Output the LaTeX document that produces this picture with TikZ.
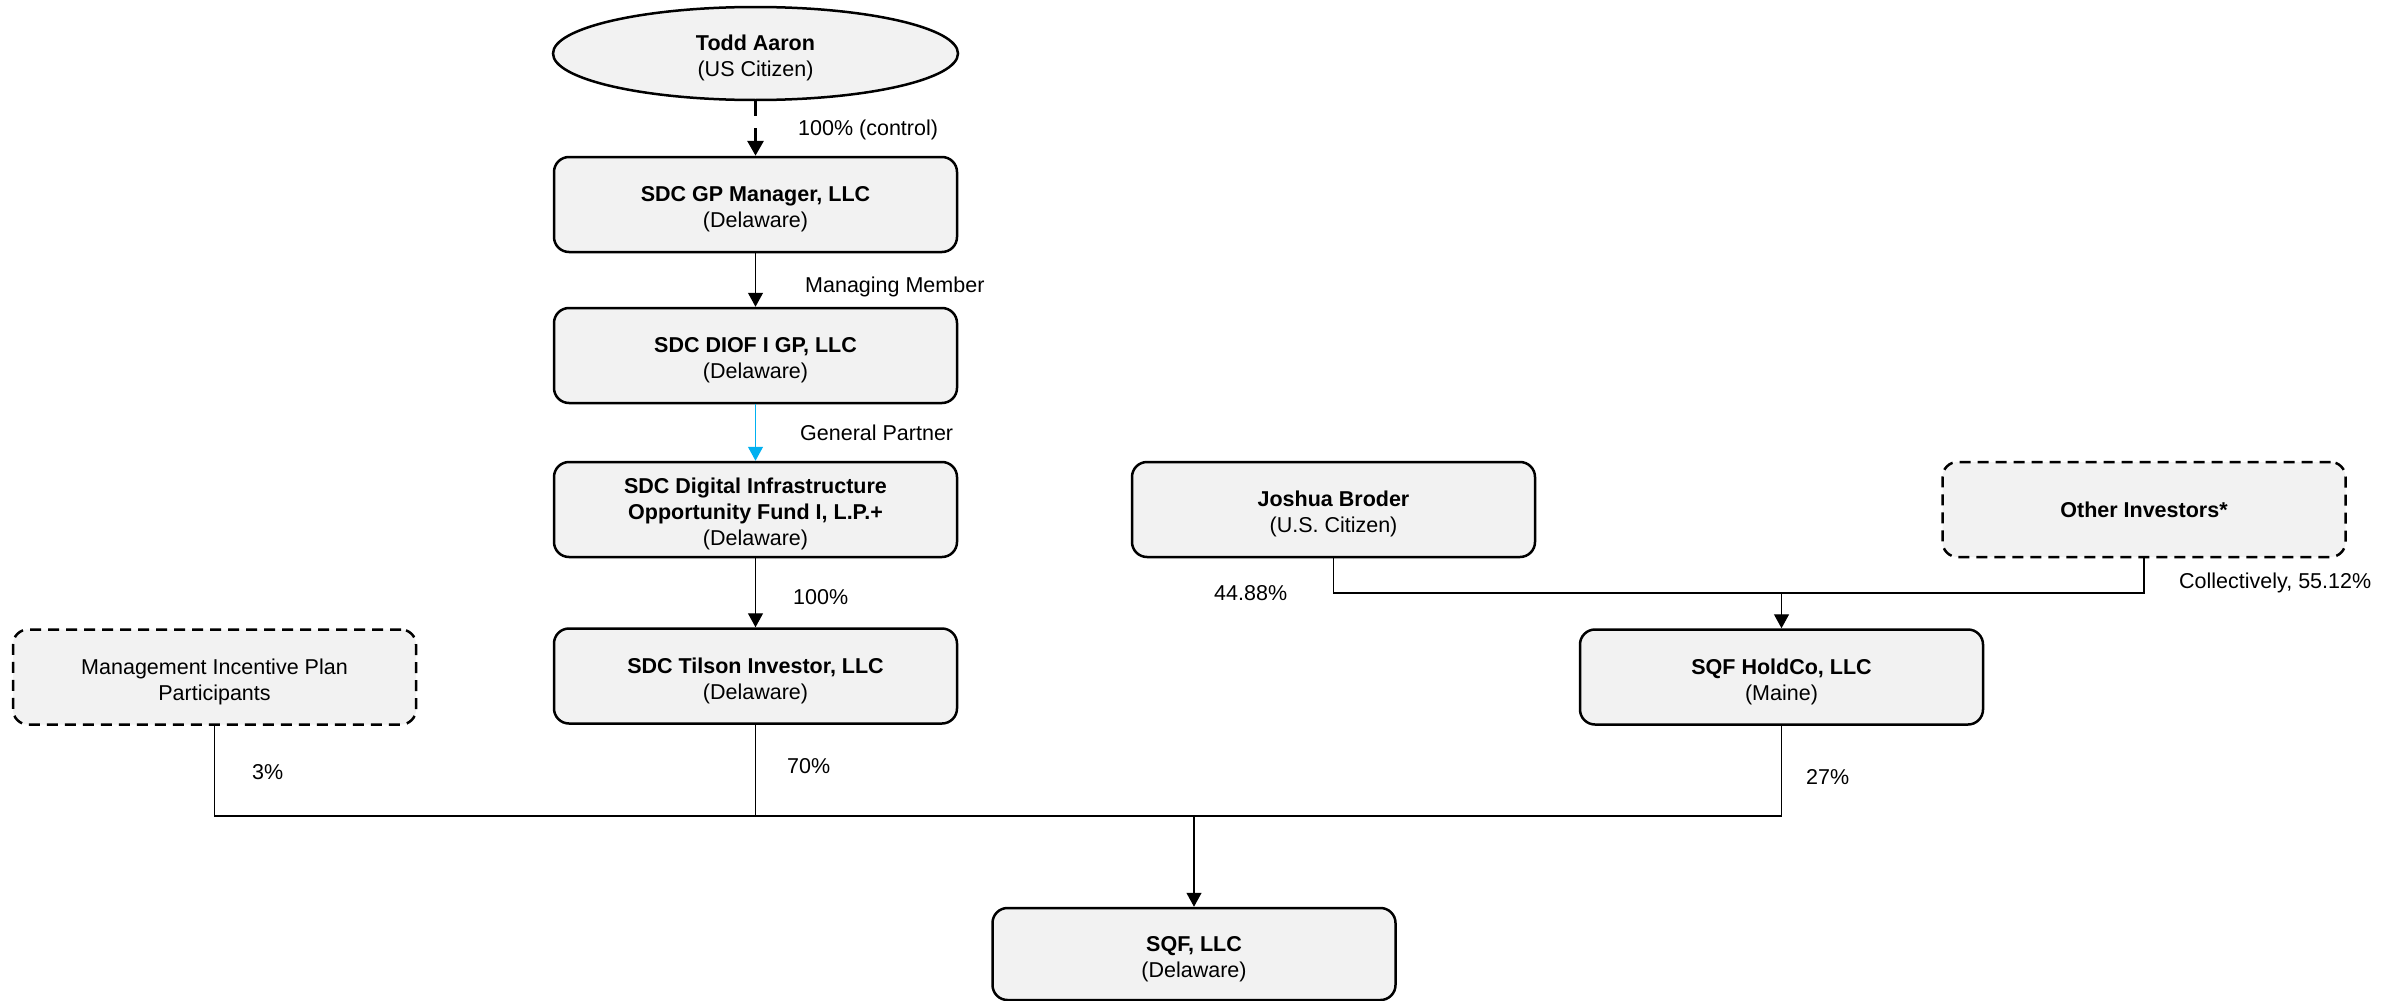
\documentclass[tikz,border=0pt]{standalone}
\usepackage{fontspec}
\setmainfont{Liberation Sans}
\usetikzlibrary{arrows.meta,shapes.geometric}
\definecolor{boxgray}{RGB}{242,242,242}
\definecolor{gpblue}{RGB}{0,176,240}
\newcommand{\topstrut}{\rule{0pt}{25pt}}
\begin{document}
\begin{tikzpicture}[x=1pt,y=-1pt,
  txt/.style={font=\fontsize{21.5}{26}\selectfont},
  box/.style={txt, draw=black, line width=2.5pt, fill=boxgray, rounded corners=15pt,
    minimum width=403pt, minimum height=95pt, align=center, inner sep=0pt},
  dbox/.style={box, dash pattern=on 11pt off 7pt},
  conn/.style={line width=1.3pt, draw=black},
  arr/.style={conn, -{Triangle[length=14pt,width=15pt]}},
  lbl/.style={txt, anchor=west, inner sep=0pt},
]
\useasboundingbox (0,0) rectangle (2402,1001);

% nodes
\node[txt, draw=black, line width=2.5pt, fill=boxgray, ellipse, minimum width=405pt, minimum height=93pt, inner sep=0pt, align=center]
  (todd) at (755.5,53.5) {\topstrut\textbf{Todd Aaron}\\(US Citizen)};
\node[box] (gpm) at (755.5,204.5) {\topstrut\textbf{SDC GP Manager, LLC}\\(Delaware)};
\node[box] (diof) at (755.5,355.5) {\topstrut\textbf{SDC DIOF I GP, LLC}\\(Delaware)};
\node[box] (fund) at (755.5,509.5) {\topstrut\textbf{SDC Digital Infrastructure}\\\textbf{Opportunity Fund I, L.P.+}\\(Delaware)};
\node[box] (tilson) at (755.5,676) {\topstrut\textbf{SDC Tilson Investor, LLC}\\(Delaware)};
\node[dbox] (mip) at (214.5,677) {\topstrut Management Incentive Plan\\Participants};
\node[box] (joshua) at (1333.5,509.5) {\topstrut\textbf{Joshua Broder}\\(U.S. Citizen)};
\node[dbox] (others) at (2144,509.5) {\textbf{Other Investors*}};
\node[box] (holdco) at (1781.5,677) {\topstrut\textbf{SQF HoldCo, LLC}\\(Maine)};
\node[box, minimum height=92pt] (sqf) at (1194,954) {\topstrut\textbf{SQF, LLC}\\(Delaware)};

% junction coordinates
\coordinate (jj) at (joshua.south |- 0,593);
\coordinate (jo) at (others.south |- 0,593);
\coordinate (jh) at (holdco.north |- 0,593);
\coordinate (bm) at (mip.south |- 0,816);
\coordinate (bt) at (tilson.south |- 0,816);
\coordinate (bh) at (holdco.south |- 0,816);
\coordinate (bs) at (sqf.north |- 0,816);

% connectors
\draw[conn, line width=3.2pt, dash pattern=on 15pt off 12pt, -{Triangle[length=15pt,width=16pt]}] (todd.south) -- (gpm.north);
\draw[arr] (gpm) -- (diof);
\draw[arr, draw=gpblue, fill=gpblue] (diof) -- (fund);
\draw[arr] (fund) -- (tilson);

\draw[conn] (joshua.south) -- (jj) -- (jo) -- (others.south);
\draw[arr] (jh) -- (holdco.north);

\draw[conn] (mip.south) -- (bm) -- (bh) -- (holdco.south);
\draw[conn] (tilson.south) -- (bt);
\draw[arr] (bs) -- (sqf.north);

% labels
\node[lbl] (l1) at (798,130) {100\% (control)};
\node[lbl] (l2) at (805,287) {Managing Member};
\node[lbl] (l3) at (800,433) {General Partner};
\node[lbl] (l4) at (793,597) {100\%};
\node[lbl] (l5) at (787,766) {70\%};
\node[lbl] (l6) at (252,772) {3\%};
\node[lbl] (l7) at (1806,777) {27\%};
\node[lbl] (l8) at (1214,593) {44.88\%};
\node[lbl] (l9) at (2179,583) {Collectively, 55.12\%};
\end{tikzpicture}
\end{document}
